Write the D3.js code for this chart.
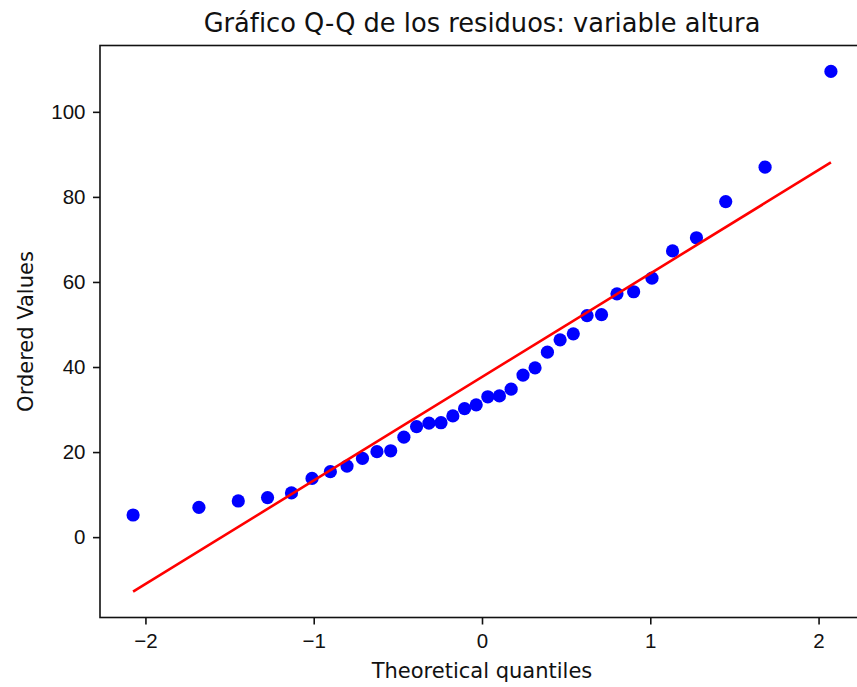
<!DOCTYPE html>
<html lang="es">
<head>
<meta charset="UTF-8">
<title>Gráfico Q-Q de los residuos</title>
<style>
  body { margin: 0; background: #fff; }
  svg { display: block; font-family: "DejaVu Sans", sans-serif; }
  .tick text { font-size: 20.5px; fill: #111; }
  .tick line { stroke: #111; stroke-width: 1.6; }
  .label { font-size: 21px; fill: #111; }
  .title { font-size: 25.7px; fill: #111; }
</style>
</head>
<body>
<svg id="chart"></svg>
<script src="https://cdn.jsdelivr.net/npm/d3@7"></script>
<script>
// theoretical quantiles (x) and ordered residuals (y)
const quantiles = [-2.0734, -1.6822, -1.4483, -1.2744, -1.1323, -1.0100, -0.9011, -0.8021, -0.7103,
  -0.6242, -0.5425, -0.4642, -0.3887, -0.3153, -0.2437, -0.1732, -0.1036, -0.0345,
  0.0345, 0.1036, 0.1732, 0.2437, 0.3153, 0.3887, 0.4642, 0.5425, 0.6242,
  0.7103, 0.8021, 0.9011, 1.0100, 1.1323, 1.2744, 1.4483, 1.6822, 2.0734];
const ordered = [5.2, 7.0, 8.5, 9.3, 10.4, 13.8, 15.4, 16.7, 18.5,
  20.1, 20.3, 23.5, 26.0, 26.8, 26.9, 28.5, 30.2, 31.1,
  33.0, 33.2, 34.8, 38.1, 39.8, 43.5, 46.4, 47.8, 52.1,
  52.3, 57.2, 57.7, 60.9, 67.3, 70.4, 78.9, 87.0, 109.5];

// fitted line end points
const fitX = [-2.0734, 2.0734];
const fitY = [-12.8, 88.1];

const xTicks = [-2, -1, 0, 1, 2];
const yTicks = [0, 20, 40, 60, 80, 100];

const width = 857, height = 687;
const plot = { left: 100, right: 864, top: 45.5, bottom: 617.5 };

const svg = d3.select('#chart')
  .attr('width', width)
  .attr('height', height);

const x = d3.scaleLinear().domain([-2.27, 2.27]).range([plot.left, plot.right]);
const y = d3.scaleLinear().domain([-18.9, 115.6]).range([plot.bottom, plot.top]);

const fmt = d => String(d).replace('-', '\u2212');

// x axis
svg.append('g')
  .attr('transform', `translate(0,${plot.bottom})`)
  .call(d3.axisBottom(x).tickValues(xTicks).tickFormat(fmt).tickSize(7).tickPadding(7.5))
  .call(g => g.select('.domain').remove())
  .selectAll('text').attr('dy', '0.76em');

// y axis
svg.append('g')
  .attr('transform', `translate(${plot.left},0)`)
  .call(d3.axisLeft(y).tickValues(yTicks).tickFormat(fmt).tickSize(7).tickPadding(7.5))
  .call(g => g.select('.domain').remove());

// points
svg.append('g')
  .selectAll('circle')
  .data(quantiles)
  .enter().append('circle')
  .attr('cx', d => x(d))
  .attr('cy', (d, i) => y(ordered[i]))
  .attr('r', 6.6)
  .attr('fill', '#0000ff');

// fit line
const line = d3.line().x(d => x(d[0])).y(d => y(d[1]));
svg.append('path')
  .datum(fitX.map((d, i) => [d, fitY[i]]))
  .attr('d', line)
  .attr('fill', 'none')
  .attr('stroke', '#ff0000')
  .attr('stroke-width', 2.6);

// frame
svg.append('rect')
  .attr('x', plot.left)
  .attr('y', plot.top)
  .attr('width', plot.right - plot.left)
  .attr('height', plot.bottom - plot.top)
  .attr('fill', 'none')
  .attr('stroke', '#111')
  .attr('stroke-width', 1.6);

// labels
svg.append('text')
  .attr('class', 'title')
  .attr('x', (plot.left + plot.right) / 2)
  .attr('y', 32)
  .attr('text-anchor', 'middle')
  .text('Gráfico Q-Q de los residuos: variable altura');

svg.append('text')
  .attr('class', 'label')
  .attr('x', (plot.left + plot.right) / 2)
  .attr('y', 678)
  .attr('text-anchor', 'middle')
  .text('Theoretical quantiles');

svg.append('text')
  .attr('class', 'label')
  .attr('transform', `translate(33,${(plot.top + plot.bottom) / 2}) rotate(-90)`)
  .attr('text-anchor', 'middle')
  .text('Ordered Values');
</script>
</body>
</html>
